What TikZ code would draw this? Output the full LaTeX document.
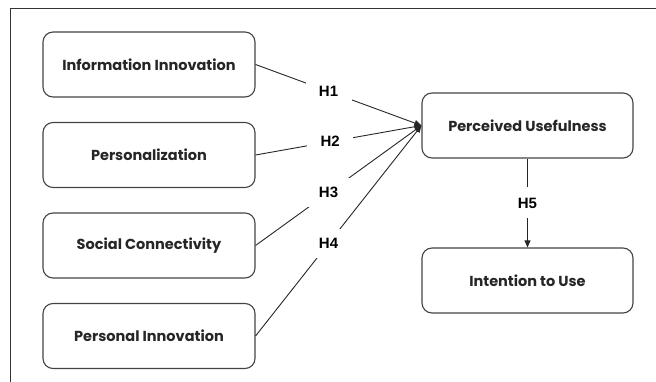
\documentclass[tikz,border=0pt]{standalone}
\usepackage{fontspec}
\setmainfont{Liberation Sans}
\newfontfamily\boxfont{Poppins}
\usetikzlibrary{arrows.meta}
\definecolor{framecol}{HTML}{333333}
\definecolor{boxcol}{HTML}{444444}
\tikzset{
  varbox/.style={draw=boxcol, line width=1.1pt, rounded corners=10pt, fill=white,
    minimum width=212pt, minimum height=65pt, inner sep=0pt,
    font=\boxfont\bfseries\fontsize{14.5}{16}\selectfont, text=black!85},
  hyp/.style={fill=white, inner sep=0pt, minimum width=46pt, minimum height=29pt,
    font=\bfseries\fontsize{15}{17}\selectfont},
  conn/.style={draw=black!85, line width=0.9pt, -{Triangle[length=7pt,width=6pt]}},
  framebar/.style={draw=framecol, line width=1pt}
}
\begin{document}
\begin{tikzpicture}[x=1pt,y=-1pt]
\useasboundingbox (0,0) rectangle (656,382);
\coordinate (ftl) at (10,9);
\coordinate (ftr) at (656,9);
\coordinate (fbl) at (10,382);
\draw[framebar] (ftr) -- (ftl) -- (fbl);

\node[varbox] (ii) at (149,64.5) {Information Innovation};
\node[varbox] (pe) at (149,155) {Personalization};
\node[varbox] (sc) at (149,245.5) {Social Connectivity};
\node[varbox] (pi) at (149,336) {Personal Innovation};
\node[varbox, minimum width=211pt] (pu) at (527.5,125.5) {Perceived Usefulness};
\node[varbox, minimum width=211pt] (iu) at (527.5,280.5) {Intention to Use};

\draw[conn] (ii.east) -- (pu.west) node[hyp,pos=0.44] {H1};
\draw[conn] (pe.east) -- (pu.west) node[hyp,pos=0.45] {H2};
\draw[conn] (sc.east) -- (pu.west) node[hyp,pos=0.44] {H3};
\draw[conn] (pi.east) -- (pu.west) node[hyp,pos=0.44] {H4};
\draw[conn] (pu.south) -- (iu.north) node[hyp,pos=0.5,minimum height=31pt] {H5};
\end{tikzpicture}
\end{document}
